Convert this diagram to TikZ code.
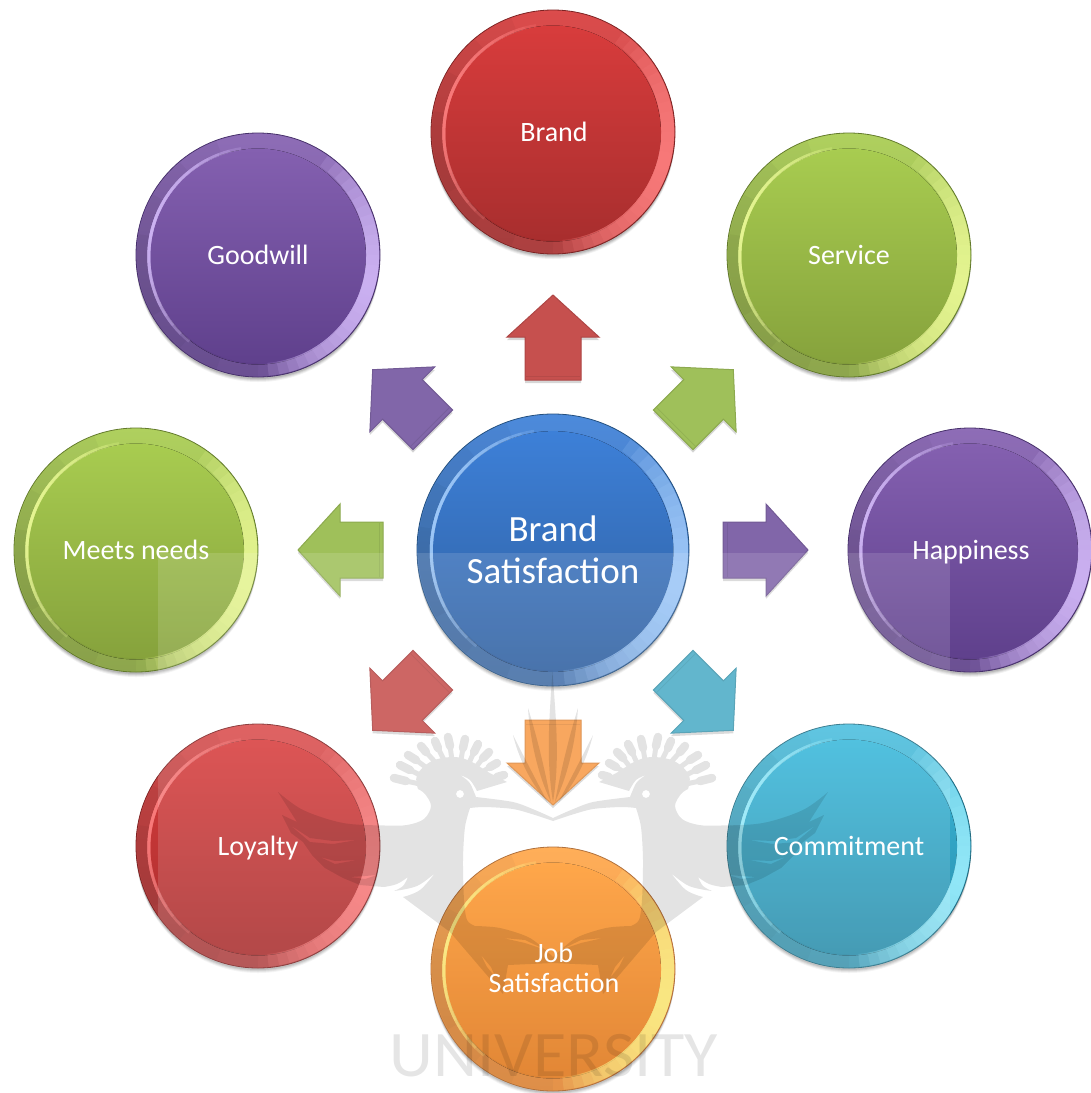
\documentclass[tikz,border=0pt]{standalone}
\usepackage{fontspec}
\setmainfont{Carlito}
\usetikzlibrary{calc}
\definecolor{blueT}{HTML}{3D80D8}\definecolor{blueB}{HTML}{2F5F9F}\definecolor{blueH}{HTML}{A5CFFF}\definecolor{blueE}{HTML}{24507F}
\definecolor{redT}{HTML}{D83C3C}\definecolor{redB}{HTML}{A82E2E}\definecolor{redH}{HTML}{FF8080}\definecolor{redE}{HTML}{7C2323}
\definecolor{grnT}{HTML}{A8CC50}\definecolor{grnB}{HTML}{86A23C}\definecolor{grnH}{HTML}{EDFC98}\definecolor{grnE}{HTML}{637A2C}
\definecolor{purT}{HTML}{8460B0}\definecolor{purB}{HTML}{5F408C}\definecolor{purH}{HTML}{D4BAFA}\definecolor{purE}{HTML}{46306A}
\definecolor{tealT}{HTML}{38B8DB}\definecolor{tealB}{HTML}{2A8DAA}\definecolor{tealH}{HTML}{9AEFFF}\definecolor{tealE}{HTML}{226B80}
\definecolor{orgT}{HTML}{FF9A30}\definecolor{orgB}{HTML}{DE7518}\definecolor{orgH}{HTML}{FFEE78}\definecolor{orgE}{HTML}{A55C20}
\definecolor{arRed}{HTML}{C6504E}\definecolor{arGrn}{HTML}{9FC05A}\definecolor{arPur}{HTML}{8166A9}\definecolor{arTeal}{HTML}{4BACC6}\definecolor{arOrg}{HTML}{F89A48}
\tikzset{
  x=1pt,y=-1pt,
  lbl/.style={text=white,anchor=base,inner sep=0pt,align=center,font=\fontsize{28}{30}\selectfont},
  mark ink/.style={fill=black,draw=none},
  finger/.style={draw=black,line cap=round},
}
% cx, cy, radius, centre angle, colour, width, opacity, list of half-spans
\newcommand\glow[8]{%
  \foreach \w in {#8}{%
    \draw[#5,line width=#6,opacity=#7] ({#1+#3*cos(#4-\w)},{#2-#3*sin(#4-\w)}) arc[start angle=#4-\w,end angle=#4+\w,radius=#3 pt];
  }
}
% name, x, y, r, colour family
\newcommand\bubble[5]{%
  \foreach \gs/\go in {5/.05,4/.07,3/.09,2/.1}{\fill[black,opacity=\go] (#2,#3+\gs) circle[radius=#4pt];}
  \node[circle,minimum size=2*#4pt,inner sep=0pt,draw=#5E,line width=.8pt,top color=#5T!92!white,bottom color=#5B!90!white] (#1) at (#2,#3) {};
  \fill[top color=#5T,bottom color=#5B] (#2,#3+1.5) circle[radius=#4*.885pt];
  \pgfmathsetmacro{\Ro}{#4*.94}
  \pgfmathsetmacro{\Wo}{#4*.105}
  \pgfmathsetmacro{\Ri}{#4*.895}
  \pgfmathsetmacro{\Yi}{#3+1.5}
  \glow{#2}{#3}{\Ro}{190}{black}{\Wo pt}{.03}{20,40,60,80}
  \glow{#2}{#3}{\Ro}{-15}{#5H}{\Wo pt}{.16}{5,10,15,20,25,30,35,40,45,50,55,60,65,70}
  \glow{#2}{\Yi}{\Ri}{165}{#5H}{3pt}{.22}{6,12,18,24,30,36,42,48,54,60,66}
}
% angle, fill
\newcommand\blockarrow[2]{%
  \fill[black,opacity=.16,shift={(core)},shift={(0,3)},rotate=#1] (-28,-170)--(-28,-213)--(-46,-213)--(0,-255)--(46,-213)--(28,-213)--(28,-170)--cycle;
  \filldraw[fill=#2,draw=#2!88!black,line width=1pt,line join=miter,shift={(core)},rotate=#1]
    (-28,-170)--(-28,-213)--(-46,-213)--(0,-255)--(46,-213)--(28,-213)--(28,-170)--cycle;
  \draw[#2!92!black,line width=.8pt,shift={(core)},rotate=#1] (-27,-174)--(27,-174);
}
\newcommand\fing[3]{% tip, mid, base
  \draw[finger,line width=8.5pt] #1 -- #2;
  \draw[finger,line width=5pt] #2 -- #3;
}
\newcommand\halfmark{%
  \fill[mark ink,even odd rule]
    plot[smooth,tension=.55] coordinates {(278,792)(303,810)(343,823)(385,825.5)(407,825)(424,819)(431,806)(425,794)(418,789)}
    -- plot[smooth,tension=.6] coordinates {(418,789)(417,775)(432,761)(455,757)(472,762)(488,772)(507,782)}
    -- (477,791)
    -- plot[smooth,tension=.6] coordinates {(477,791)(470,780)(460,775)}
    -- plot[smooth,tension=.6] coordinates {(460,775)(469,782)(474,792)(476,797)}
    -- plot[smooth,tension=.5] coordinates {(476,797)(513,802)(535,810)(553,818)}
    -- (553,821)
    -- plot[smooth,tension=.5] coordinates {(553,821)(535,815)(513,809)(485,807)(470,808)}
    -- plot[smooth,tension=.5] coordinates {(470,808)(465,827)(463,860)(464,900)(467,920)(475,926)}
    -- plot[smooth,tension=.5] coordinates {(475,926)(500,928)(530,938)(553,957)}
    -- (553,963) -- (508,965) -- (503,994)
    -- (450,932) -- (403,897)
    -- plot[smooth,tension=.6] coordinates {(403,897)(420,890)(435,873)}
    -- plot[smooth,tension=.6] coordinates {(435,873)(417,886)(394,891)}
    -- plot[smooth,tension=.6] coordinates {(394,891)(403,886)(408,877)}
    -- plot[smooth,tension=.6] coordinates {(408,877)(397,884)(384,887)}
    -- (360,885) -- (343,878) -- (325,868) -- (312,855) -- (303,842) -- (291,833) -- (282,815) -- (297,822) -- cycle
    (290,825) -- (310,838) -- (333,841) -- (357,840) -- (333,844) -- (310,842) -- cycle
    (320,857) -- (335,861) -- (357,860) -- (335,864) -- cycle
    (350,877) -- (365,876) -- (377,875) -- (365,879) -- cycle
    (481,955) -- (491,967) -- (496,978) -- (487,967) -- cycle
    (503,938) -- (525,940) -- (546,950) -- (525,943) -- cycle
    (460,794) circle[radius=4pt];
  \fing{(394,778)}{(406,781)}{(420,784)}
  \fing{(400,765)}{(410,770)}{(422,776)}
  \fing{(408,755)}{(416,760)}{(427,768)}
  \fing{(421,746)}{(426,752)}{(435,762)}
  \fing{(435,741)}{(438,748)}{(444,760)}
  \fing{(448,737)}{(450,746)}{(452,760)}
  \fing{(465,739)}{(463,748)}{(461,760)}
  \fing{(478,744)}{(474,752)}{(469,763)}
  \fing{(489,752)}{(483,758)}{(476,767)}
  \fing{(497,763)}{(490,767)}{(482,772)}
  \fing{(504,775)}{(497,777)}{(488,780)}
  \fill[mark ink] (528,708) .. controls (530,740) and (538,775) .. (551,802) .. controls (546,775) and (538,740) .. cycle;
  \fill[mark ink] (513,735) .. controls (518,755) and (528,780) .. (548,803) .. controls (536,780) and (523,755) .. cycle;
}
\begin{document}
\begin{tikzpicture}
\useasboundingbox (0,0) rectangle (1091,1093);
\clip (0,0) rectangle (1091,1093);
\bubble{core}{553}{550}{136}{blue}
\bubble{brand}{553}{132}{122}{red}
\bubble{service}{849}{255}{122}{grn}
\bubble{happy}{970}{550}{122}{pur}
\bubble{commit}{849}{846}{122}{teal}
\bubble{job}{553}{969}{122}{org}
\bubble{loyal}{258}{846}{122}{red}
\bubble{needs}{136}{550}{122}{grn}
\bubble{goodwill}{258}{255}{122}{pur}
\blockarrow{0}{arRed}
\blockarrow{-45}{arGrn}
\blockarrow{-90}{arPur}
\blockarrow{-135}{arTeal}
\blockarrow{180}{arOrg}
\blockarrow{135}{arRed}
\blockarrow{90}{arGrn}
\blockarrow{45}{arPur}
\fill[white,opacity=.13] (158,553) rectangle (950,1093);
\begin{scope}[transparency group,opacity=.11]
  \halfmark
  \begin{scope}[shift={(1106,0)},xscale=-1]\halfmark\end{scope}
  \fill[mark ink] (552.5,672) .. controls (556,720) and (560,760) .. (553,802) .. controls (546,760) and (549,720) .. cycle;
\end{scope}
\node[inner sep=0pt,anchor=base,text=black,text opacity=.1,font=\fontsize{65}{65}\selectfont,xscale=1.05] (uni) at (554,1076) {UNIVERSITY};
\node[lbl] (tbrand) at (554,141) {Brand};
\node[lbl] (tservice) at (849,264) {Service};
\node[lbl] (tgood) at (258,264) {Goodwill};
\node[lbl] (thappy) at (971,559) {Happiness};
\node[lbl] (tneeds) at (136,559) {Meets needs};
\node[lbl] (tloyal) at (258,855) {Loyalty};
\node[lbl] (tcommit) at (849,855) {Commitment};
\node[lbl,anchor=center] (tjob) at (554,968) {Job\\Satisfaction};
\node[lbl,anchor=center,font=\fontsize{37}{42}\selectfont] (tcore) at (553,550) {Brand\\Satisfaction};
\end{tikzpicture}
\end{document}
